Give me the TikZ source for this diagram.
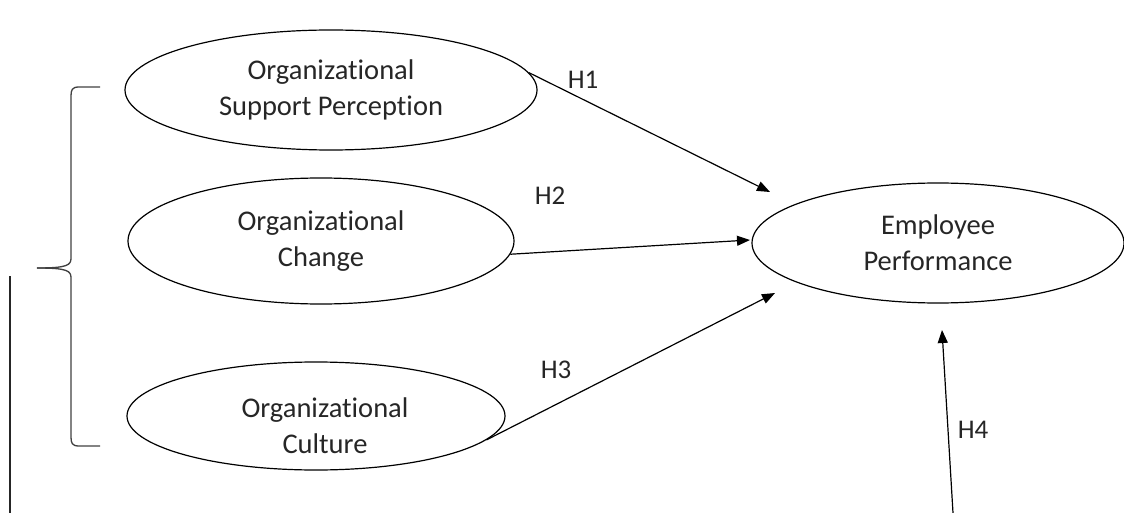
\documentclass[tikz,border=0pt]{standalone}
\usepackage{fontspec}
\setmainfont[Ligatures=NoCommon]{Carlito}
\usetikzlibrary{shapes.geometric,arrows.meta}
\begin{document}
\begin{tikzpicture}[x=1pt,y=-1pt,
  txt/.style={align=center,font=\fontsize{28.5}{36}\selectfont,text=black!85},
  latent/.style={draw=black,line width=1.2pt,ellipse,inner sep=0pt,txt},
  hyp/.style={font=\fontsize{27}{30}\selectfont,text=black!85},
  path/.style={line width=1.2pt,-{Triangle[length=13pt,width=10pt]}},
  brace/.style={line width=1.3pt,draw=black!75}]
\useasboundingbox (0,0) rectangle (1124,513);
\node[latent,minimum width=412pt,minimum height=120pt] (osp) at (331,90) {Organizational\\Support Perception};
\node[latent,minimum width=386pt,minimum height=126pt] (chg) at (321,241) {Organizational\\Change};
\node[latent,minimum width=378pt,minimum height=108pt] (cul) at (316,416) {};
\node[txt] (cultxt) at (325,426) {Organizational\\Culture};
\node[latent,minimum width=372pt,minimum height=120pt] (emp) at (938,243) {Employee\\Performance};
\coordinate (h1e) at (770,192);
\coordinate (h2e) at (750,240);
\coordinate (h3e) at (775,293);
\coordinate (h4e) at (942,330);
\coordinate (h4s) at (953,513);
\draw[path] (osp.5) -- (h1e);
\draw[path] (chg.-4) -- (h2e);
\draw[path] (cul.-8) -- (h3e);
\draw[path] (h4s) -- (h4e);
\node[hyp] (l1) at (583,80) {H1};
\node[hyp] (l2) at (550,196) {H2};
\node[hyp] (l3) at (556,370) {H3};
\node[hyp] (l4) at (973,430) {H4};
% brace
\coordinate (bt) at (100,87);
\coordinate (bm) at (37,268);
\coordinate (bb) at (100,446);
\draw[brace] (bt) -- (79,87) .. controls (72,87) and (71,90) .. (71,96) -- (71,258)
  .. controls (71,265) and (68,268) .. (bm);
\draw[brace] (bm) .. controls (68,268) and (71,271) .. (71,278) -- (71,437)
  .. controls (71,443) and (72,446) .. (79,446) -- (bb);
\coordinate (vt) at (10,276);
\coordinate (vb) at (10,513);
\draw[line width=1.1pt,black!85] (vt) -- (vb);
\end{tikzpicture}
\end{document}
